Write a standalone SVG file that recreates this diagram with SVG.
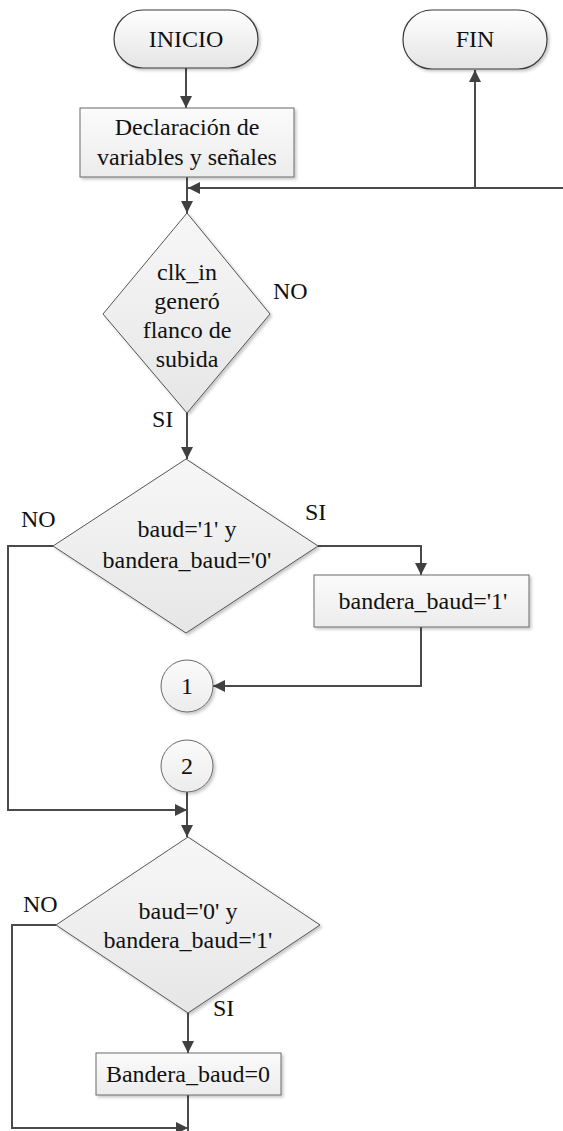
<svg xmlns="http://www.w3.org/2000/svg" width="563" height="1131" viewBox="0 0 563 1131">
  <defs>
    <linearGradient id="gTerm" x1="0" y1="0" x2="0" y2="1">
      <stop offset="0" stop-color="#ffffff"/>
      <stop offset="1" stop-color="#e4e4e4"/>
    </linearGradient>
    <linearGradient id="gBox" x1="0" y1="0" x2="0" y2="1">
      <stop offset="0" stop-color="#fbfbfb"/>
      <stop offset="1" stop-color="#ececec"/>
    </linearGradient>
    <linearGradient id="gDia" x1="0" y1="0" x2="0" y2="1">
      <stop offset="0" stop-color="#f7f7f7"/>
      <stop offset="1" stop-color="#e6e6e6"/>
    </linearGradient>
    <filter id="shadow" x="-10%" y="-10%" width="125%" height="125%">
      <feDropShadow dx="2" dy="2" stdDeviation="1.5" flood-color="#000" flood-opacity="0.22"/>
    </filter>
    <marker id="arrow" viewBox="0 0 12 12" refX="12" refY="6" markerWidth="12" markerHeight="12" markerUnits="userSpaceOnUse" orient="auto">
      <path d="M0,0 L12,6 L0,12 Z" fill="#404040"/>
    </marker>
    <style>
      .term { fill: url(#gTerm); stroke: #3a3a3a; stroke-width: 1.2; filter: url(#shadow); }
      .box { fill: url(#gBox); stroke: #6a6a6a; stroke-width: 1; filter: url(#shadow); }
      .dia { fill: url(#gDia); stroke: #555; stroke-width: 1; filter: url(#shadow); }
      .conn { fill: none; stroke: #4a4a4a; stroke-width: 2; }
      .arr { marker-end: url(#arrow); }
      text { font-family: "Liberation Serif", "Times New Roman", serif; font-size: 24px; fill: #111; }
      .c { text-anchor: middle; }
    </style>
  </defs>

  <!-- connectors -->
  <g id="connectors">
    <path class="conn arr" d="M186,68 V108"/>
    <path class="conn arr" d="M187,177 V213"/>
    <path class="conn arr" d="M563,188 H188"/>
    <path class="conn arr" d="M475,188 V70"/>
    <path class="conn arr" d="M187,413 V459"/>
    <path class="conn arr" d="M318,546 H421 V575"/>
    <path class="conn arr" d="M421,627 V686 H213"/>
    <path class="conn arr" d="M53,546 H8 V810 H187"/>
    <path class="conn arr" d="M187,792 V837"/>
    <path class="conn arr" d="M56,925 H12 V1128 H188"/>
    <path class="conn arr" d="M188,1013 V1053"/>
    <path class="conn" d="M188,1095 V1131"/>
  </g>

  <!-- start terminal -->
  <g id="inicio">
    <rect class="term" x="114" y="10" width="144" height="58" rx="29" ry="29"/>
    <text class="c" x="186" y="47">INICIO</text>
  </g>

  <!-- end terminal -->
  <g id="fin">
    <rect class="term" x="403" y="10" width="144" height="59" rx="29" ry="29"/>
    <text class="c" x="475" y="47">FIN</text>
  </g>

  <!-- declarations -->
  <g id="declaracion">
    <rect class="box" x="80" y="108" width="214" height="69"/>
    <text class="c" x="187" y="135">Declaración de</text>
    <text class="c" x="187" y="165">variables y señales</text>
  </g>

  <!-- rising edge check -->
  <g id="flanco">
    <polygon class="dia" points="187,213 270,314 187,413 103,314"/>
    <text class="c" x="187" y="280">clk_in</text>
    <text class="c" x="187" y="309">generó</text>
    <text class="c" x="187" y="338">flanco de</text>
    <text class="c" x="187" y="367">subida</text>
    <text x="273" y="299">NO</text>
    <text x="152" y="427">SI</text>
  </g>

  <!-- baud high and flag low -->
  <g id="cond1">
    <polygon class="dia" points="186,459 318,546 186,633 53,546"/>
    <text class="c" x="187" y="537">baud='1' y</text>
    <text class="c" x="187" y="568">bandera_baud='0'</text>
    <text x="21" y="527">NO</text>
    <text x="305" y="520">SI</text>
  </g>

  <g id="set_flag">
    <rect class="box" x="314" y="575" width="215" height="52"/>
    <text class="c" x="423" y="609">bandera_baud='1'</text>
  </g>

  <g id="conector1">
    <circle class="box" cx="187" cy="686" r="26"/>
    <text class="c" x="187" y="694">1</text>
  </g>

  <g id="conector2">
    <circle class="box" cx="187" cy="766" r="26"/>
    <text class="c" x="187" y="774">2</text>
  </g>

  <!-- baud low and flag high -->
  <g id="cond2">
    <polygon class="dia" points="188,837 320,925 188,1013 56,925"/>
    <text class="c" x="188" y="919">baud='0' y</text>
    <text class="c" x="188" y="948">bandera_baud='1'</text>
    <text x="23" y="912">NO</text>
    <text x="213" y="1016">SI</text>
  </g>

  <g id="clear_flag">
    <rect class="box" x="96" y="1053" width="185" height="42"/>
    <text class="c" x="188" y="1082">Bandera_baud=0</text>
  </g>
</svg>
